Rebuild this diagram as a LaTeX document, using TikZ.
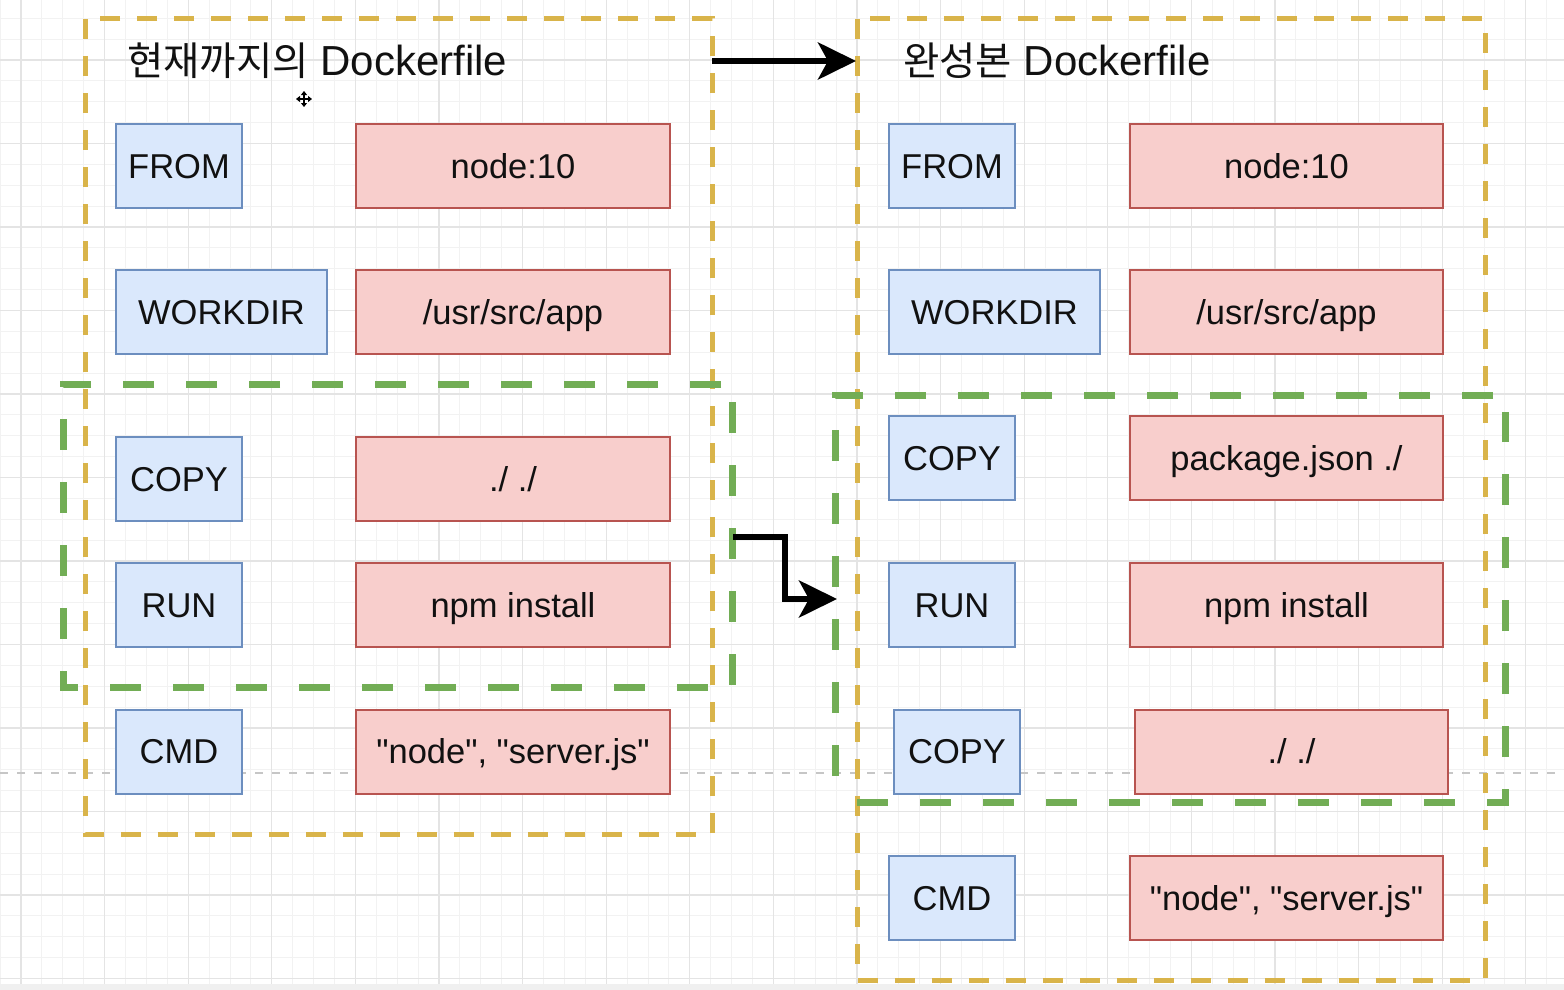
\documentclass[tikz,border=0pt]{standalone}
\usepackage{fontspec}
\setmainfont{Liberation Sans}[Ligatures=TeXOff]
\newfontfamily\kr{Noto Sans CJK KR}[Scale=0.94]
\usetikzlibrary{arrows.meta,calc}
\definecolor{bfill}{HTML}{DAE8FC}
\definecolor{bline}{HTML}{6C8EBF}
\definecolor{rfill}{HTML}{F8CECC}
\definecolor{rline}{HTML}{B85450}
\definecolor{yel}{HTML}{D9B44A}
\definecolor{grn}{HTML}{72AD55}
\definecolor{gmaj}{HTML}{E4E4E4}
\definecolor{gmin}{HTML}{F2F2F2}
\definecolor{txt}{HTML}{111111}
\tikzset{
  bluebox/.style={draw=bline, fill=bfill, line width=2pt, minimum height=84pt,
    text=txt, font=\fontsize{34.5pt}{40pt}\selectfont, inner sep=0pt,
    text height=24.5pt, text depth=0pt},
  redbox/.style={draw=rline, fill=rfill, line width=2pt, minimum height=84pt,
    minimum width=314pt, text=txt, font=\fontsize{34.5pt}{40pt}\selectfont, inner sep=0pt,
    text height=24.5pt, text depth=0pt},
  yframe/.style={draw=yel, line width=5pt, dash pattern=on 20pt off 17pt},
  gframe/.style={draw=grn, line width=7pt, dash pattern=on 31pt off 32pt},
  minorgrid/.style={draw=gmin, line width=1pt},
  majorgrid/.style={draw=gmaj, line width=1.2pt},
  titletext/.style={anchor=west, inner sep=0pt, text=txt, font=\fontsize{42pt}{48pt}\selectfont},
  flowarrow/.style={draw=black, line width=6pt, -{Stealth[length=38pt,width=37pt,inset=10pt]}},
}
\begin{document}
\begin{tikzpicture}[x=1pt,y=-1pt]
\useasboundingbox (0,0) rectangle (1564,990);
\fill[white] (0,0) rectangle (1564,990);
% grid
\foreach \i in {0,...,74} \draw[minorgrid] (0.1+20.9*\i,0) -- (0.1+20.9*\i,990);
\foreach \i in {0,...,46} \draw[minorgrid] (0,18.25+20.875*\i) -- (1564,18.25+20.875*\i);
\foreach \i in {0,...,18} \draw[majorgrid] (21+83.6*\i,0) -- (21+83.6*\i,990);
\foreach \i in {0,...,11} \draw[majorgrid] (0,60+83.5*\i) -- (1564,60+83.5*\i);
% page break line
\draw[draw=gray!45, line width=2pt, dash pattern=on 8pt off 9pt] (0,773) -- (1564,773);
\fill[gray!12] (0,984) rectangle (1564,990);

% yellow frames
\draw[yframe] (85,19) rectangle (712,834);
\draw[yframe] (857,19) rectangle (1485,980);

% green frames
\draw[gframe] (721,384) -- (63,384) -- (63,687) -- (732,687);
\draw[gframe] (732,402) -- (732,687);
\draw[gframe] (1493,395) -- (835,395) -- (835,790);
\draw[gframe] (857,802) -- (1505,802) -- (1505,412);

% titles
\node[titletext] (ltitle) at (127,61) {{\kr 현재까지의} Dockerfile};
\node[titletext] (rtitle) at (903,61) {{\kr 완성본} Dockerfile};

% left column
\node[bluebox, minimum width=126pt] (lfrom) at (179,166) {FROM};
\node[redbox] (lfromv) at (513,166) {node:10};
\node[bluebox, minimum width=211pt] (lwork) at (221.5,312) {WORKDIR};
\node[redbox] (lworkv) at (513,312) {/usr/src/app};
\node[bluebox, minimum width=126pt] (lcopy) at (179,479) {COPY};
\node[redbox] (lcopyv) at (513,479) {./ ./};
\node[bluebox, minimum width=126pt] (lrun) at (179,605) {RUN};
\node[redbox] (lrunv) at (513,605) {npm install};
\node[bluebox, minimum width=126pt] (lcmd) at (179,751.5) {CMD};
\node[redbox] (lcmdv) at (513,751.5) {"node", "server.js"};

% right column
\node[bluebox, minimum width=126pt] (rfrom) at (952,166) {FROM};
\node[redbox, minimum width=313pt] (rfromv) at (1286.5,166) {node:10};
\node[bluebox, minimum width=211pt] (rwork) at (994.5,312) {WORKDIR};
\node[redbox, minimum width=313pt] (rworkv) at (1286.5,312) {/usr/src/app};
\node[bluebox, minimum width=126pt] (rcopya) at (952,458) {COPY};
\node[redbox, minimum width=313pt] (rcopyav) at (1286.5,458) {package.json ./};
\node[bluebox, minimum width=126pt] (rrun) at (952,605) {RUN};
\node[redbox, minimum width=313pt] (rrunv) at (1286.5,605) {npm install};
\node[bluebox, minimum width=126pt] (rcopyb) at (957,751.5) {COPY};
\node[redbox, minimum width=313pt] (rcopybv) at (1291.5,751.5) {./ ./};
\node[bluebox, minimum width=126pt] (rcmd) at (952,898) {CMD};
\node[redbox, minimum width=313pt] (rcmdv) at (1286.5,898) {"node", "server.js"};

% arrows
\coordinate (ta) at (712,61);
\coordinate (tb) at (856,61);
\draw[flowarrow] (ta) -- (tb);
\coordinate (ga) at (733,537);
\coordinate (gb) at (837,599);
\draw[flowarrow] (ga) -- ++(52,0) |- (gb);

% move cursor
\coordinate (cur) at (304,99);
\draw[white, line width=4pt, line cap=round] ($(cur)+(-8,0)$) -- ($(cur)+(8,0)$) ($(cur)+(0,-8)$) -- ($(cur)+(0,8)$);
\draw[black, line width=1.6pt, {Triangle[length=4pt,width=6pt]}-{Triangle[length=4pt,width=6pt]}] ($(cur)+(-8,0)$) -- ($(cur)+(8,0)$);
\draw[black, line width=1.6pt, {Triangle[length=4pt,width=6pt]}-{Triangle[length=4pt,width=6pt]}] ($(cur)+(0,-8)$) -- ($(cur)+(0,8)$);
\end{tikzpicture}
\end{document}
